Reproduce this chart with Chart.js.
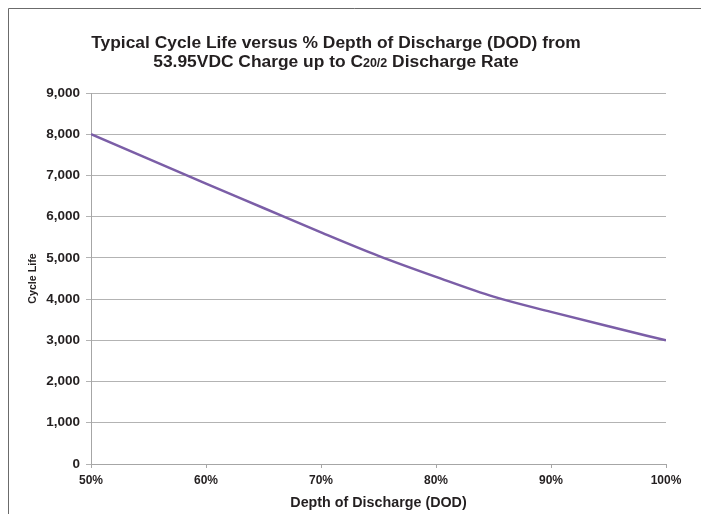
<!DOCTYPE html>
<html>
<head>
<meta charset="utf-8">
<script src="https://cdn.jsdelivr.net/npm/chart.js@4.4.1/dist/chart.umd.min.js"></script>
<style>
  html, body { margin: 0; padding: 0; background: #fff; }
  #wrap { width: 701px; height: 514px; position: relative; }
</style>
</head>
<body>
<div id="wrap"><canvas id="cycleChart" width="701" height="514"></canvas></div>
<script>
// depth of discharge (%) and cycle life
const dod = [50, 55, 60, 65, 70, 75, 80, 85, 90, 95, 100];
const cycleLife = [8000, 7400, 6800, 6210, 5620, 5050, 4540, 4060, 3690, 3340, 3000];
const yTicks = [0, 1000, 2000, 3000, 4000, 5000, 6000, 7000, 8000, 9000];

const titleLine1 = 'Typical Cycle Life versus % Depth of Discharge (DOD) from';
const titleLine2 = ['53.95VDC Charge up to C', '20/2', ' Discharge Rate'];

const FONT = '"Liberation Sans", Arial, sans-serif';

// frame + two-line title with the subscript
const titlePlugin = {
    id: 'titlePlugin',
    beforeDraw(chart) {
        const ctx = chart.ctx;
        ctx.save();
        ctx.strokeStyle = '#6b6b6b';
        ctx.lineWidth = 1;
        ctx.beginPath();
        ctx.moveTo(8.5, 514);
        ctx.lineTo(8.5, 8.5);
        ctx.lineTo(701, 8.5);
        ctx.stroke();
        ctx.restore();
    },
    afterDraw(chart) {
        const ctx = chart.ctx;
        const cx = 336;
        ctx.save();
        ctx.fillStyle = '#231f20';
        ctx.textBaseline = 'alphabetic';
        ctx.textAlign = 'left';

        const big = 'bold 17.4px ' + FONT;
        const small = 'bold 12.5px ' + FONT;

        ctx.font = big;
        let w = ctx.measureText(titleLine1).width;
        ctx.fillText(titleLine1, cx - w / 2, 48);

        const w0 = ctx.measureText(titleLine2[0]).width;
        const w2 = ctx.measureText(titleLine2[2]).width;
        ctx.font = small;
        const w1 = ctx.measureText(titleLine2[1]).width;
        let x = cx - (w0 + w1 + w2) / 2;
        ctx.font = big;
        ctx.fillText(titleLine2[0], x, 67);
        x += w0;
        ctx.font = small;
        ctx.fillText(titleLine2[1], x, 67);
        x += w1;
        ctx.font = big;
        ctx.fillText(titleLine2[2], x, 67);
        ctx.restore();
    }
};

new Chart(document.getElementById('cycleChart'), {
    type: 'line',
    data: {
        datasets: [{
            label: 'Cycle Life',
            data: dod.map((d, i) => ({ x: d, y: cycleLife[i] })),
            borderColor: '#7b5ea7',
            borderWidth: 2.5,
            pointRadius: 0,
            fill: false,
            cubicInterpolationMode: 'monotone'
        }]
    },
    options: {
        responsive: false,
        animation: false,
        layout: {
            padding: { top: 93, right: 35, bottom: 0, left: 0 }
        },
        plugins: {
            legend: { display: false },
            title: { display: false },
            tooltip: { enabled: false }
        },
        scales: {
            x: {
                type: 'linear',
                min: 50,
                max: 100,
                afterFit: function(scale) { scale.height = 50; },
                ticks: {
                    stepSize: 10,
                    padding: 5,
                    color: '#231f20',
                    font: { family: FONT, size: 12, weight: 'bold' },
                    callback: function(value) { return value + '%'; }
                },
                grid: {
                    drawOnChartArea: false,
                    drawTicks: true,
                    tickLength: 4,
                    color: '#a6a6a6'
                },
                border: { color: '#a6a6a6', width: 1 },
                title: {
                    display: true,
                    text: 'Depth of Discharge (DOD)',
                    color: '#231f20',
                    font: { family: FONT, size: 14.3, weight: 'bold' },
                    padding: { top: 0, bottom: 2 }
                }
            },
            y: {
                min: 0,
                max: 9000,
                afterFit: function(scale) { scale.width = 91; },
                afterBuildTicks: function(scale) {
                    scale.ticks = yTicks.map(v => ({ value: v }));
                },
                ticks: {
                    padding: 6,
                    color: '#231f20',
                    font: { family: FONT, size: 13.5, weight: 'bold' },
                    callback: function(value) { return value.toLocaleString('en-US'); }
                },
                grid: {
                    color: '#b3b3b3',
                    tickLength: 5,
                    drawTicks: true
                },
                border: { color: '#a6a6a6', width: 1 },
                title: {
                    display: true,
                    text: 'Cycle Life',
                    color: '#231f20',
                    font: { family: FONT, size: 10.7, weight: 'bold' },
                    padding: { top: 27, bottom: 0 }
                }
            }
        }
    },
    plugins: [titlePlugin]
});
</script>
</body>
</html>
